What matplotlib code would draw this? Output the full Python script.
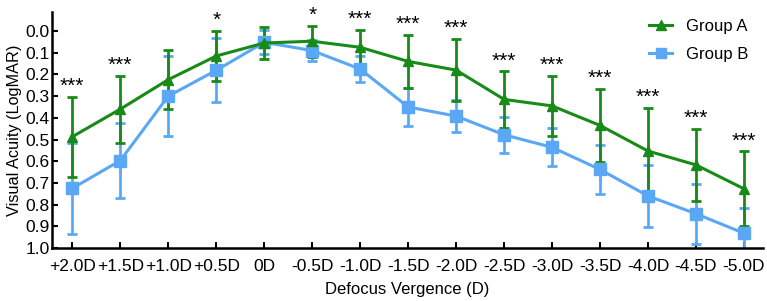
import numpy as np
import matplotlib
matplotlib.use('Agg')
import matplotlib.pyplot as plt
from matplotlib.lines import Line2D

plt.rcParams['font.family'] = ['Liberation Sans', 'DejaVu Sans']

# defocus levels
labels = ['+2.0D', '+1.5D', '+1.0D', '+0.5D', '0D', '-0.5D', '-1.0D', '-1.5D',
          '-2.0D', '-2.5D', '-3.0D', '-3.5D', '-4.0D', '-4.5D', '-5.0D']
# group A mean / sd (logMAR)
a_mean = [0.487, 0.360, 0.224, 0.115, 0.055, 0.047, 0.075, 0.140,
          0.180, 0.315, 0.345, 0.435, 0.553, 0.617, 0.727]
a_sd = [0.185, 0.155, 0.135, 0.115, 0.075, 0.072, 0.080, 0.123,
        0.143, 0.130, 0.140, 0.170, 0.198, 0.167, 0.172]
# group B mean / sd
b_mean = [0.725, 0.597, 0.300, 0.181, 0.052, 0.090, 0.175, 0.350,
          0.392, 0.478, 0.536, 0.638, 0.760, 0.842, 0.932]
b_sd = [0.210, 0.172, 0.185, 0.147, 0.055, 0.050, 0.058, 0.088,
        0.075, 0.083, 0.087, 0.113, 0.142, 0.139, 0.115]
# significance marks
sig = ['***', '***', '', '*', '', '*', '***', '***',
       '***', '***', '***', '***', '***', '***', '***']

green = '#178a17'
blue = '#5aa8f5'

x = np.arange(len(labels))
fig = plt.figure(figsize=(7.67, 3.01), dpi=100)
ax = fig.add_axes([0.068, 0.176, 0.927, 0.784])

ax.errorbar(x, b_mean, yerr=b_sd, color=blue, marker='s', markersize=8,
            linewidth=2.2, elinewidth=2, capsize=3.5, capthick=2)
ax.errorbar(x, a_mean, yerr=a_sd, color=green, marker='^', markersize=7.5,
            linewidth=2.2, elinewidth=2, capsize=3.5, capthick=2)

for i in range(len(labels)):
    if sig[i]:
        top = min(a_mean[i] - a_sd[i], b_mean[i] - b_sd[i])
        ax.text(x[i], top - 0.022, sig[i], ha='center', va='baseline',
                fontsize=15, clip_on=False)

ax.set_xlim(-0.42, 14.4)
ax.set_ylim(1.0, -0.0876)
ax.set_yticks(np.arange(0, 1.01, 0.1))
ax.set_yticklabels(['%.1f' % v for v in np.arange(0, 1.01, 0.1)])
ax.set_xticks(x)
ax.set_xticklabels(labels)
ax.tick_params(direction='in', length=4, width=1.5, labelsize=12.5)
ax.tick_params(axis='y', pad=2)
ax.tick_params(axis='x', pad=8)
ax.spines['top'].set_visible(False)
ax.spines['right'].set_visible(False)
ax.spines['left'].set_linewidth(1.8)
ax.spines['bottom'].set_linewidth(1.8)
ax.set_xlabel('Defocus Vergence (D)', fontsize=12, labelpad=6)
ax.set_ylabel('Visual Acuity (LogMAR)', fontsize=11.7, labelpad=2)

handles = [Line2D([], [], color=green, marker='^', markersize=7, linewidth=2.2),
           Line2D([], [], color=blue, marker='s', markersize=7, linewidth=2.2)]
ax.legend(handles, ['Group A', 'Group B'], loc='upper right', frameon=False,
          fontsize=12, handlelength=1.4, labelspacing=0.8,
          bbox_to_anchor=(1.0, 1.035))

fig.savefig('out.png', dpi=100)
